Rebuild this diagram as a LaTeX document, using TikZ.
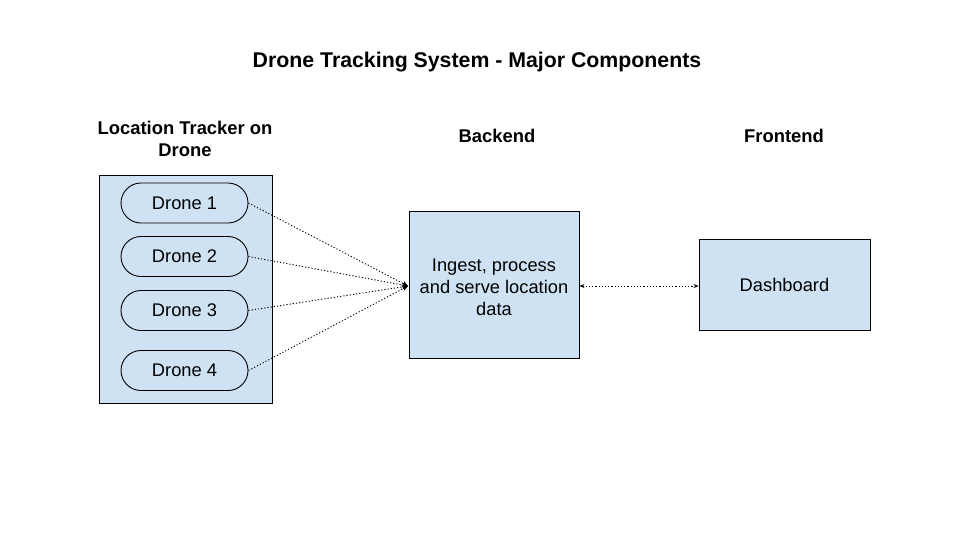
\documentclass[tikz,border=0pt]{standalone}
\usepackage{fontspec}
\setmainfont{Liberation Sans}
\usetikzlibrary{arrows.meta}
\definecolor{boxblue}{HTML}{CFE2F3}
\tikzset{
  panel/.style={draw=black, fill=boxblue, line width=0.9pt, inner sep=0pt},
  pill/.style={draw=black, fill=boxblue, line width=0.9pt, rounded corners=20pt, minimum width=127pt, minimum height=40pt, inner sep=0pt, font=\fontsize{18.3}{22}\selectfont},
  heading/.style={font=\fontsize{18.4}{22}\selectfont\bfseries, align=center},
  link/.style={line width=0.9pt, dash pattern=on 1.2pt off 2pt},
  tip/.style={-{Stealth[length=6pt,width=5pt]}},
}
\begin{document}
\begin{tikzpicture}[x=1pt,y=1pt]
\useasboundingbox (0,0) rectangle (960,-542);
\fill[white] (0,0) rectangle (960,-542);
% title
\node[font=\fontsize{21.3}{25}\selectfont\bfseries] (title) at (477,-62) {Drone Tracking System - Major Components};
% headings
\node[heading] (h1) at (185,-139) {Location Tracker on\\Drone};
\node[heading] (h2) at (497,-136) {Backend};
\node[heading] (h3) at (784,-136) {Frontend};
% container
\node[panel, minimum width=173pt, minimum height=228pt] (cont) at (185.5,-289) {};
\node[pill] (d1) at (184.5,-203) {Drone 1};
\node[pill] (d2) at (184.5,-256.5) {Drone 2};
\node[pill] (d3) at (184.5,-310.5) {Drone 3};
\node[pill] (d4) at (184.5,-370.5) {Drone 4};
% backend
\node[panel, minimum width=170pt, minimum height=147pt] (be) at (494,-284.5) {};
\node[align=center, font=\fontsize{18.3}{22}\selectfont] (betext) at (494,-287) {Ingest, process\\and serve location\\data};
% frontend
\node[panel, minimum width=171pt, minimum height=91pt, font=\fontsize{18.3}{22}\selectfont] (fe) at (784.5,-284.5) {Dashboard};
\coordinate (conv) at (408,-286);
\draw[link, tip] (d1.east) -- (conv);
\draw[link, tip] (d2.east) -- (conv);
\draw[link, tip] (d3.east) -- (conv);
\draw[link, tip] (d4.east) -- (conv);
\draw[link, {Stealth[length=5pt,width=4pt]}-{Stealth[length=5pt,width=4pt]}] (be.east |- 0,-286) -- (fe.west |- 0,-286);
\end{tikzpicture}
\end{document}
